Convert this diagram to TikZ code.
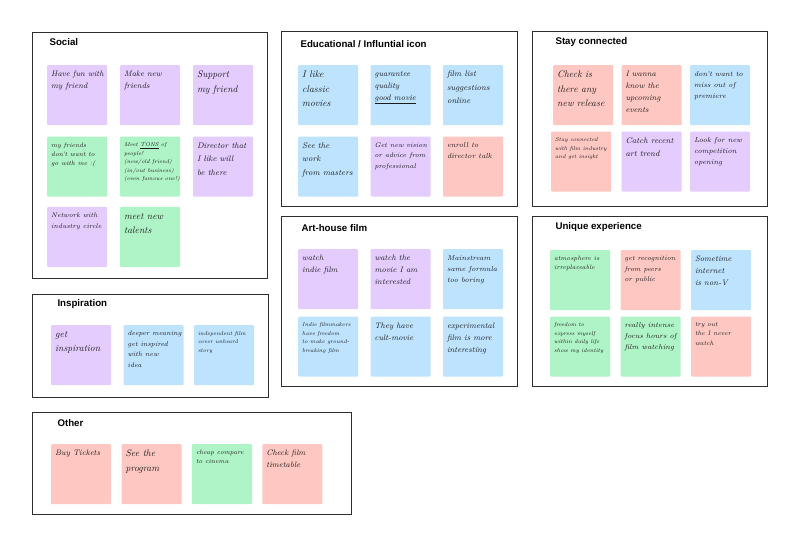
\documentclass[tikz,border=0pt]{standalone}
\usepackage{fontspec}
\setsansfont{Liberation Sans}
\usepackage{tikz}
\usetikzlibrary{positioning,calc}
\definecolor{violeta}{HTML}{E4CCFF}
\definecolor{verde}{HTML}{AFF4C6}
\definecolor{celeste}{HTML}{BDE3FF}
\definecolor{rosa}{HTML}{FFC7C2}
\definecolor{marco}{HTML}{2E2E2E}
\definecolor{tinta}{HTML}{1C1C1C}
\newcommand{\hwT}{\fontsize{5.6}{8.6}\selectfont\itshape}
\newcommand{\hwS}{\fontsize{6.4}{9.2}\selectfont\itshape}
\newcommand{\hwY}{\fontsize{6.8}{10.5}\selectfont\itshape}
\newcommand{\hwX}{\fontsize{7.2}{11}\selectfont\itshape}
\newcommand{\hwM}{\fontsize{8}{12}\selectfont\itshape}
\newcommand{\hwN}{\fontsize{8.2}{13.5}\selectfont\itshape}
\newcommand{\hwL}{\fontsize{9.6}{14.5}\selectfont\itshape}
\newcommand{\memo}[2][\hwM]{\parbox[t][52pt][t]{52pt}{\makebox[52pt][l]{\vtop{\hsize=120pt\raggedright#1\vspace*{2pt}#2}}}}

\begin{document}
\begin{tikzpicture}[x=1pt, y=1pt,
      frame/.style={draw=marco, line width=1.4pt, anchor=north west, inner sep=0pt},
      ttl/.style={anchor=west, font=\sffamily\bfseries\fontsize{9.7}{11}\selectfont, text=black},
      note/.style={fill=#1, rounded corners=1pt, minimum width=60pt, minimum height=60pt,
                   inner xsep=4pt, inner ysep=4pt, text=tinta}]
    \useasboundingbox (0,0) rectangle (800,547);

    % --- Social ------------------------------------------------------------
    \node[frame, minimum width=235pt, minimum height=246pt] (social) at (32,515) {};
    \node[ttl] at ($(social.north west)+(14,-10)$) {Social};
    \node[note=violeta, below right=33pt and 15pt of social.north west] (s1) {\memo{Have fun with\\ my friend}};
    \node[note=violeta, right=12.5pt of s1] (s2) {\memo{Make new\\ friends}};
    \node[note=violeta, right=12.5pt of s2] (s3) {\memo[\hwL]{Support\\ my friend}};
    \node[note=verde, below=11pt of s1] (s4) {\memo[\hwS]{my friends\\ don't want to\\ go with me :(}};
    \node[note=verde, below=11pt of s2] (s5) {\memo[\hwT]{Meet \underline{TONS} of\\ people!\\ (new/old friend)\\ (in/out business)\\ (even famous one!)}};
    \node[note=violeta, below=11pt of s3] (s6) {\memo[\hwN]{Director that\\ I like will\\ be there}};
    \node[note=violeta, below=10pt of s4] (s7) {\memo[\hwY]{Network with\\ industry circle}};
    \node[note=verde, below=10pt of s5] (s8) {\memo[\hwL]{meet new\\ talents}};

    % --- Educational / Influntial icon --------------------------------------
    \node[frame, minimum width=236pt, minimum height=175pt] (edu) at (281,516) {};
    \node[ttl] at ($(edu.north west)+(16,-13)$) {Educational / Influntial icon};
    \node[note=celeste, below right=34pt and 17pt of edu.north west] (e1) {\memo[\hwL]{I like\\ classic\\ movies}};
    \node[note=celeste, right=12pt of e1] (e2) {\memo{guarantee\\ quality\\ \underline{good movie}}};
    \node[note=celeste, right=12pt of e2] (e3) {\memo[\hwN]{film list\\ suggestions\\ online}};
    \node[note=celeste, below=11pt of e1] (e4) {\memo[\hwN]{See the\\ work\\ from masters}};
    \node[note=violeta, below=11pt of e2] (e5) {\memo[\hwY]{Get new vision\\ or advice from\\ professional}};
    \node[note=rosa, below=11pt of e3] (e6) {\memo[\hwX]{enroll to\\ director talk}};

    % --- Stay connected -----------------------------------------------------
    \node[frame, minimum width=235pt, minimum height=175pt] (stay) at (532,516) {};
    \node[ttl] at ($(stay.north west)+(20,-11)$) {Stay connected};
    \node[note=rosa, below right=34pt and 21pt of stay.north west] (c1) {\memo[\hwL]{Check is\\ there any\\ new release}};
    \node[note=rosa, right=8pt of c1] (c2) {\memo{I wanna\\ know the\\ upcoming\\ events}};
    \node[note=celeste, right=8pt of c2] (c3) {\memo[\hwX]{don't want to\\ miss out of\\ premiere}};
    \node[note=rosa, below=6pt of c1, xshift=-2pt] (c4) {\memo[\hwT]{Stay connected\\ with film industry\\ and get insight}};
    \node[note=violeta, below=6pt of c2] (c5) {\memo[\hwN]{Catch recent\\ art trend}};
    \node[note=violeta, below=6pt of c3] (c6) {\memo[\hwX]{Look for new\\ competition\\ opening}};

    % --- Art-house film -----------------------------------------------------
    \node[frame, minimum width=236pt, minimum height=170pt] (art) at (281,331) {};
    \node[ttl] at ($(art.north west)+(17,-12)$) {Art-house film};
    \node[note=violeta, below right=33pt and 17pt of art.north west] (a1) {\memo{watch\\ indie film}};
    \node[note=violeta, right=12pt of a1] (a2) {\memo{watch the\\ movie I am\\ interested}};
    \node[note=celeste, right=12pt of a2] (a3) {\memo[\hwX]{Mainstream\\ same formula\\ too boring}};
    \node[note=celeste, below=7pt of a1] (a4) {\memo[\hwT]{Indie filmmakers\\ have freedom\\ to make ground-\\ breaking film}};
    \node[note=celeste, below=7pt of a2] (a5) {\memo{They have\\ cult-movie}};
    \node[note=celeste, below=7pt of a3] (a6) {\memo{experimental\\ film is more\\ interesting}};

    % --- Unique experience --------------------------------------------------
    \node[frame, minimum width=235pt, minimum height=170pt] (uniq) at (532,331) {};
    \node[ttl] at ($(uniq.north west)+(20,-11)$) {Unique experience};
    \node[note=verde, below right=34pt and 18pt of uniq.north west] (u1) {\memo[\hwS]{atmosphere is\\ irreplaceable}};
    \node[note=rosa, right=10pt of u1] (u2) {\memo[\hwY]{get recognition\\ from peers\\ or public}};
    \node[note=celeste, right=10pt of u2] (u3) {\memo{Sometime\\ internet\\ is non-V}};
    \node[note=verde, below=6pt of u1] (u4) {\memo[\hwT]{freedom to\\ express myself\\ within daily life\\ show my identity}};
    \node[note=verde, below=6pt of u2] (u5) {\memo[\hwX]{really intense\\ focus hours of\\ film watching}};
    \node[note=rosa, below=6pt of u3] (u6) {\memo[\hwS]{try out\\ the I never\\ watch}};

    % --- Inspiration --------------------------------------------------------
    \node[frame, minimum width=236pt, minimum height=103pt] (insp) at (32,253) {};
    \node[ttl] at ($(insp.north west)+(22,-10)$) {Inspiration};
    \node[note=violeta, below right=31pt and 19pt of insp.north west] (i1) {\memo[\hwL]{get\\ inspiration}};
    \node[note=celeste, right=12pt of i1] (i2) {\memo[\hwY]{deeper meaning\\ get inspired\\ with new\\ idea}};
    \node[note=celeste, right=10pt of i2] (i3) {\memo[\hwT]{independent film\\ cover unheard\\ story}};

    % --- Other --------------------------------------------------------------
    \node[frame, minimum width=319pt, minimum height=102pt] (other) at (32,135) {};
    \node[ttl] at ($(other.north west)+(22,-11)$) {Other};
    \node[note=rosa, below right=32pt and 19pt of other.north west] (o1) {\memo{Buy Tickets}};
    \node[note=rosa, right=10pt of o1] (o2) {\memo[\hwL]{See the\\ program}};
    \node[note=verde, right=10pt of o2] (o3) {\memo[\hwS]{cheap compare\\ to cinema}};
    \node[note=rosa, right=10pt of o3] (o4) {\memo{Check film\\ timetable}};
  \end{tikzpicture}
\end{document}
